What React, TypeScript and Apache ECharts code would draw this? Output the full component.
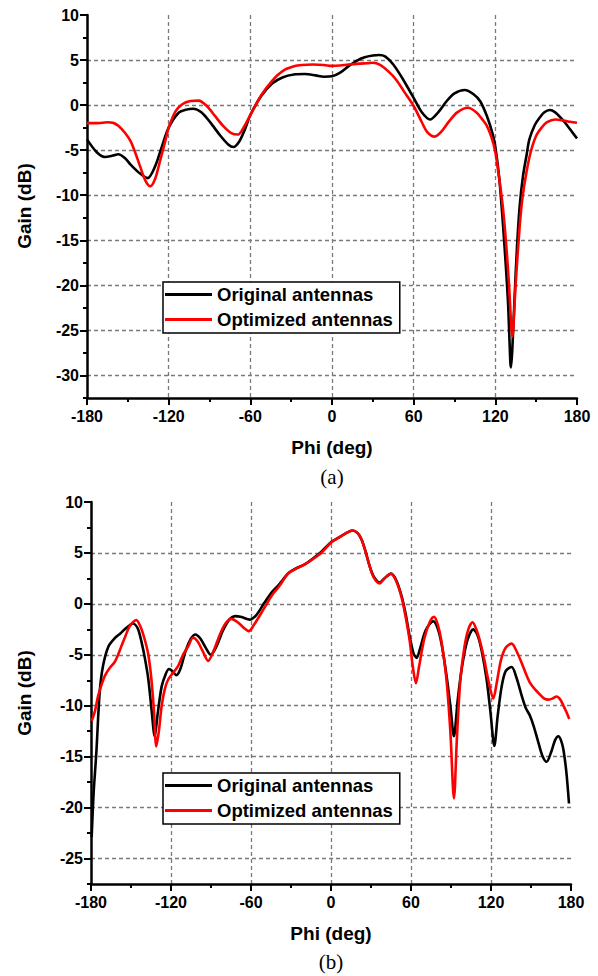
import React, { useEffect, useRef } from 'react';
import * as echarts from 'echarts';

// ---------- Data ----------
// Panel (a)
const phiOrigA = [-180, -173, -167, -161, -157, -152, -148, -141, -135.5, -130, -125, -120, -113, -107, -102, -96, -89, -82, -76, -72.5, -68, -64, -60, -52, -44, -36, -28, -20, -12, -6, 0, 6, 12, 18, 24, 30, 34.5, 39, 45, 52, 60, 66, 72, 78, 84, 90, 97.5, 104, 109, 114, 118, 120, 123, 125.5, 128, 129.5, 131, 131.5, 132.5, 134, 136, 138, 140.3, 143, 145, 149, 152.5, 156, 160, 164, 168, 172, 176, 180];
const gainOrigA = [-3.8, -5.2, -5.75, -5.6, -5.45, -5.9, -6.6, -7.6, -8.1, -6.8, -4.6, -2.5, -0.9, -0.5, -0.4, -0.8, -2.0, -3.4, -4.4, -4.65, -4.0, -2.7, -1.1, 1.0, 2.4, 3.1, 3.4, 3.45, 3.3, 3.15, 3.2, 3.6, 4.3, 4.9, 5.3, 5.5, 5.56, 5.4, 4.5, 2.9, 0.8, -0.8, -1.6, -0.8, 0.4, 1.3, 1.67, 1.2, 0.4, -1.3, -3.2, -4.6, -8.3, -13, -18.5, -22.5, -28.5, -29.1, -27, -21.8, -15.5, -11, -7.9, -5.5, -3.8, -2.2, -1.4, -0.8, -0.55, -0.8, -1.4, -2.1, -2.9, -3.7];
const phiOptA = [-180, -172, -165, -161, -157, -152, -148, -144, -141, -137, -133.5, -130, -126, -122, -120, -115, -110, -104, -98, -92, -86, -80, -74, -69, -65, -60, -52, -44, -36, -28, -22, -14, -6, 0, 6, 12, 20, 26, 30, 35, 41, 47, 53, 60, 66, 70, 75.4, 80, 86, 92, 100, 106, 110, 113.4, 117, 120, 123, 125.5, 128, 130, 132.5, 135, 137.9, 140, 142.8, 146, 150, 154, 158, 164, 170, 175, 180];
const gainOptA = [-2.0, -2.0, -1.9, -1.96, -2.3, -3.1, -4.0, -5.5, -6.8, -8.4, -9.0, -8.2, -6.0, -3.7, -2.5, -0.7, 0.1, 0.45, 0.5, -0.1, -1.2, -2.3, -3.1, -3.26, -2.5, -1.1, 1.1, 2.7, 3.8, 4.3, 4.45, 4.5, 4.45, 4.35, 4.4, 4.5, 4.6, 4.65, 4.7, 4.5, 3.8, 2.85, 1.5, -0.1, -1.9, -3.0, -3.5, -3.0, -1.8, -0.8, -0.3, -0.8, -1.5, -2.2, -3.5, -5.2, -8.3, -11.3, -15.5, -19.8, -25.7, -19.7, -13.4, -10.2, -7.5, -5.2, -3.4, -2.5, -1.9, -1.6, -1.7, -1.85, -1.96];

// Panel (b)
const phiOrigB = [-179.5, -178, -176, -173.5, -171, -167, -162, -158, -154.7, -148.5, -145, -142, -139.5, -137, -134.5, -132.2, -130, -127, -124, -121.5, -119, -116, -113, -109, -105, -101.7, -98, -94, -90.2, -86, -81, -76, -72, -67, -61, -56, -50, -44, -39, -32, -26, -20, -14, -7, 0, 7, 12, 16, 20, 23, 26, 29, 32, 36.5, 40, 45, 49, 53, 56, 59, 62, 64.2, 67, 71, 76.7, 80, 83, 86.7, 89.5, 92.2, 95, 98, 102, 106.7, 110, 113, 116.7, 119.5, 122.5, 125, 128, 131, 135.5, 139, 143, 146, 149.3, 152, 155.5, 158.5, 161.7, 165, 168, 170.5, 172.5, 174.3, 176.5, 178.5];
const gainOrigB = [-22.9, -18.5, -14.6, -8.7, -6.1, -4.2, -3.35, -2.9, -2.5, -1.93, -2.4, -3.8, -5.4, -7.4, -10.5, -13.0, -10.8, -8.1, -6.9, -6.4, -6.6, -7.0, -6.4, -4.6, -3.4, -3.0, -3.4, -4.3, -5.0, -4.2, -2.6, -1.5, -1.2, -1.3, -1.55, -1.1, 0.1, 1.2, 1.9, 3.0, 3.5, 3.85, 4.4, 5.15, 6.05, 6.6, 7.0, 7.2, 6.95, 6.3, 5.1, 3.7, 2.7, 2.1, 2.5, 2.97, 2.3, 0.75, -1.0, -3.2, -4.9, -5.3, -4.3, -2.6, -1.7, -2.4, -4.0, -7.1, -10.0, -13.0, -9.5, -6.4, -3.7, -2.5, -3.1, -4.6, -7.4, -10.5, -13.95, -11.0, -8.1, -6.6, -6.2, -7.2, -9.0, -10.2, -11.0, -12.0, -13.6, -14.9, -15.5, -14.6, -13.4, -13.0, -13.4, -14.3, -16.5, -19.6];
const phiOptB = [-179.5, -177, -174.7, -172, -169.7, -166, -162.2, -160, -157.2, -154, -151, -146, -143, -139.7, -137, -134.7, -132.8, -131, -129, -127, -124.5, -122, -118, -114.7, -111, -107, -103.5, -100, -96, -92.2, -88, -83, -79, -74.7, -70, -65, -61.7, -58, -50, -44, -39, -32, -26, -20, -14, -7, 0, 7, 12, 16, 20, 23, 26, 29, 32, 36.5, 40, 45, 49, 53, 56, 59, 61.5, 63.7, 66, 70, 74, 77.2, 80, 83, 86.5, 89.5, 92.2, 94.5, 97, 100, 103, 106.2, 109, 112, 115, 118, 121.7, 124.5, 127.5, 131, 135.5, 139, 143, 146, 149.3, 153, 156.7, 160, 163, 166, 169.2, 172, 174.3, 176.5, 178.7];
const gainOptB = [-11.5, -10.5, -9.05, -7.9, -7.1, -6.3, -5.7, -5.1, -4.15, -3.1, -2.2, -1.6, -2.2, -3.5, -5.0, -7.4, -10.5, -14.0, -12.4, -10.0, -8.3, -7.4, -6.7, -6.1, -5.0, -4.15, -3.33, -3.7, -4.7, -5.6, -4.6, -2.9, -1.9, -1.47, -1.8, -2.4, -2.68, -2.1, -0.4, 0.9, 1.7, 3.0, 3.45, 3.85, 4.35, 5.05, 6.0, 6.6, 7.0, 7.2, 6.95, 6.3, 5.1, 3.7, 2.6, 2.0, 2.5, 2.95, 2.2, 0.6, -1.3, -3.6, -6.3, -7.8, -6.2, -3.4, -1.8, -1.27, -2.0, -3.8, -7.3, -12.5, -19.1, -13.0, -7.5, -4.3, -2.5, -1.8, -2.5, -3.8, -5.5, -7.5, -9.3, -7.6, -5.5, -4.3, -3.9, -4.6, -5.8, -6.8, -7.75, -8.4, -8.9, -9.3, -9.4, -9.3, -9.1, -9.4, -10.0, -10.6, -11.3];

// Axes / labels
const yTicksA = [-30, -25, -20, -15, -10, -5, 0, 5, 10];
const yTicksB = [-25, -20, -15, -10, -5, 0, 5, 10];
const yMinA = -32.5;
const yMinB = -27.5;
const seriesNames = ['Original antennas', 'Optimized antennas'];
const seriesColors = ['#000000', '#ff0000'];
const panelLabels = ['(a)', '(b)'];
const xTitle = 'Phi (deg)';
const yTitle = 'Gain (dB)';

const zip = (xs: number[], ys: number[]) => xs.map((x, i) => [x, ys[i]]);

const SANS = 'Liberation Sans, Arial, sans-serif';
const SERIF = 'Liberation Serif, Times New Roman, serif';
const tickLabel = { color: '#000', fontFamily: SANS, fontWeight: 'bold' as const, fontSize: 16 };
const gridLine = { color: '#7a7a7a', width: 1.3, type: [4, 3] as number[] };
const blackLine = { color: '#000', width: 2.5 };
const tickLine = { color: '#000', width: 2 };

function xAxisFor(gridIndex: number) {
  return {
    type: 'value', gridIndex, min: -180, max: 180, interval: 60,
    axisLine: { show: true, onZero: false, lineStyle: blackLine },
    axisTick: { show: true, length: 7, lineStyle: tickLine },
    minorTick: { show: true, splitNumber: 2, length: 4, lineStyle: tickLine },
    axisLabel: { ...tickLabel, margin: 10 },
    splitLine: { show: true, showMinLine: false, showMaxLine: false, lineStyle: gridLine },
  };
}
function yMainFor(gridIndex: number, min: number, ticks: number[]) {
  return {
    type: 'value', gridIndex, min, max: 10, position: 'left',
    axisLine: { show: true, onZero: false, lineStyle: blackLine },
    axisTick: { show: true, customValues: ticks, length: 7, lineStyle: tickLine },
    axisLabel: { ...tickLabel, customValues: ticks, margin: 8 },
    splitLine: { show: true, showMinLine: true, showMaxLine: false, lineStyle: gridLine },
  };
}
function yMinorFor(gridIndex: number, min: number) {
  return {
    type: 'value', gridIndex, min, max: 10, interval: 2.5, position: 'left', offset: 0,
    axisLine: { show: false, onZero: false },
    axisTick: { show: true, length: 4, lineStyle: tickLine },
    axisLabel: { show: false },
    splitLine: { show: false },
  };
}
function lineSeries(idx: number, data: number[][], xi: number, yi: number) {
  const color = seriesColors[idx];
  return {
    type: 'line', name: seriesNames[idx], data, xAxisIndex: xi, yAxisIndex: yi,
    symbol: 'none', showSymbol: false, smooth: 0.3, silent: true,
    lineStyle: { color, width: 2.6 }, itemStyle: { color },
    emphasis: { disabled: true },
  };
}
function legendFor(top: number) {
  return {
    left: 163, top, orient: 'vertical', selectedMode: false,
    data: seriesNames.map((name, i) => ({ name, icon: 'rect', itemStyle: { color: seriesColors[i] } })),
    backgroundColor: '#fff', borderColor: '#000', borderWidth: 1.5, borderRadius: 0,
    padding: [3, 7, 4, 2], itemGap: 6, itemWidth: 47, itemHeight: 3,
    textStyle: { color: '#000', fontFamily: SANS, fontWeight: 'bold', fontSize: 18.5, lineHeight: 19 },
  };
}
function textEl(text: string, x: number, y: number, font: string, size: number, weight: string, rotation = 0) {
  return {
    type: 'text', x, y, rotation, silent: true,
    style: { text, fill: '#000', font: `${weight} ${size}px ${font}`, textAlign: 'center', textVerticalAlign: 'middle' },
  };
}

export default function App() {
  const ref = useRef<HTMLDivElement>(null);
  useEffect(() => {
    if (!ref.current) return;
    const chart = echarts.init(ref.current, undefined, { renderer: 'svg' });
    chart.setOption({
      animation: false,
      backgroundColor: '#fff',
      grid: [
        { left: 87, top: 15, width: 490, height: 383, containLabel: false },
        { left: 91, top: 502, width: 480, height: 382, containLabel: false },
      ],
      xAxis: [xAxisFor(0), xAxisFor(1)],
      yAxis: [yMainFor(0, yMinA, yTicksA), yMinorFor(0, yMinA), yMainFor(1, yMinB, yTicksB), yMinorFor(1, yMinB)],
      legend: [legendFor(282), legendFor(773)],
      series: [
        lineSeries(0, zip(phiOrigA, gainOrigA), 0, 0),
        lineSeries(1, zip(phiOptA, gainOptA), 0, 0),
        lineSeries(0, zip(phiOrigB, gainOrigB), 1, 2),
        lineSeries(1, zip(phiOptB, gainOptB), 1, 2),
      ],
      graphic: [
        textEl(yTitle, 24, 206, SANS, 19, 'bold', Math.PI / 2),
        textEl(xTitle, 332, 447, SANS, 19, 'bold'),
        textEl(panelLabels[0], 332, 477, SERIF, 21, 'normal'),
        textEl(yTitle, 24, 693, SANS, 19, 'bold', Math.PI / 2),
        textEl(xTitle, 331, 933, SANS, 19, 'bold'),
        textEl(panelLabels[1], 331, 962, SERIF, 21, 'normal'),
      ],
    });
    return () => chart.dispose();
  }, []);
  return <div ref={ref} style={{ position: 'absolute', left: 0, top: 0, width: 598, height: 976 }} />;
}
